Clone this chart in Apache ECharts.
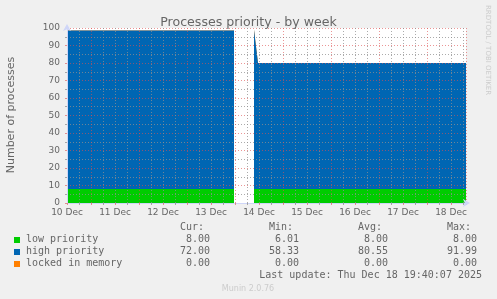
<!DOCTYPE html>
<html><head><meta charset="utf-8">
<script src="https://cdn.jsdelivr.net/npm/echarts@6/dist/echarts.min.js"></script>
<style>html,body{margin:0;padding:0;background:#f0f0f0;}#c{width:497px;height:299px;}</style>
</head><body><div id="c"></div>
<script>
// time in hours since 10 Dec 00:00
const hours          = [0,    83.5, 83.5, 93.5, 94.5, 95.5, 199.5];
const lowPriority    = [8,    8,    null, 8,    8,    8,    8];
const highPriority   = [90.6, 90.6, null, 91,   91,   72,   72];
const lockedInMemory = [0,    0,    null, 0,    0,    0,    0];

const xTickLabels = ['10 Dec','11 Dec','12 Dec','13 Dec','14 Dec','15 Dec','16 Dec','17 Dec','18 Dec'];
const yTickLabels = ['0','10','20','30','40','50','60','70','80','90','100'];

const legendNames  = ['low priority','high priority','locked in memory'];
const legendColors = ['#00cc00','#0066b3','#ff8000'];
const curVals = ['8.00','72.00','0.00'];
const minVals = ['6.01','58.33','0.00'];
const avgVals = ['8.00','80.55','0.00'];
const maxVals = ['8.00','91.99','0.00'];

const GRID = 'rgba(143,143,143,0.75)';
const MGRID = 'rgba(222,79,79,0.6)';
const FONT = '#666666';
const MONO = '10px "DejaVu Sans Mono"';

// stacked (cumulative) tops, computed from the series arrays
const seriesVals = [lowPriority, highPriority, lockedInMemory];
const cumul = [];
seriesVals.forEach((v,si)=>{
  cumul.push(v.map((val,i)=> val===null ? null : seriesVals.slice(0,si+1).reduce((s,a)=>s+a[i],0)));
});

// draw top-of-stack first, lower layers over it
const series = [2,1,0].map((si,k)=>({
  name: legendNames[si], type:'line',
  data: hours.map((h,i)=>[h, cumul[si][i]]),
  symbol:'none', showSymbol:false, connectNulls:false,
  lineStyle:{width:0}, itemStyle:{color:legendColors[si]},
  areaStyle:{color:legendColors[si], opacity:1, origin:'start'}, z:2+k*0.1, zlevel:0, animation:false
}));

const graphic = [];
graphic.push({type:'text', x:11, y:115, rotation:Math.PI/2,
  style:{text:'Number of processes', font:'11px "DejaVu Sans"', fill:FONT, align:'center', verticalAlign:'middle'}});
graphic.push({type:'text', x:488, y:5, rotation:-Math.PI/2,
  style:{text:'RRDTOOL / TOBI OETIKER', font:'7px "DejaVu Sans"', fill:'#cccccc', align:'left', verticalAlign:'middle'}});
const cols = [[204,'Cur:',curVals,210],[293,'Min:',minVals,299],[382,'Avg:',avgVals,388],[471,'Max:',maxVals,477]];
cols.forEach(c=>{
  graphic.push({type:'text', x:c[0], y:227.5, style:{text:c[1], font:MONO, fill:FONT, align:'right', verticalAlign:'middle'}});
});
legendNames.forEach((n,i)=>{
  const y = 239.7 + i*12;
  graphic.push({type:'rect', shape:{x:14, y:y-2.7, width:6, height:6}, style:{fill:legendColors[i]}});
  graphic.push({type:'text', x:26, y:y, style:{text:n, font:MONO, fill:FONT, align:'left', verticalAlign:'middle'}});
  cols.forEach(c=>{
    graphic.push({type:'text', x:c[3], y:y, style:{text:c[2][i], font:MONO, fill:FONT, align:'right', verticalAlign:'middle'}});
  });
});
graphic.push({type:'text', x:482, y:275.5, style:{text:'Last update: Thu Dec 18 19:40:07 2025', font:MONO, fill:FONT, align:'right', verticalAlign:'middle'}});
graphic.push({type:'text', x:248, y:288.5, style:{text:'Munin 2.0.76', font:'8px "DejaVu Sans"', fill:'#cccccc', align:'center', verticalAlign:'middle'}});

const chart = echarts.init(document.getElementById('c'), null, {renderer:'canvas'});
chart.setOption({
  animation:false,
  backgroundColor:'#f0f0f0',
  title:{text:'Processes priority - by week', left:'center', top:11,
    textStyle:{fontFamily:'DejaVu Sans', fontSize:12.6, fontWeight:'normal', color:FONT}},
  grid:{left:67, right:31, top:28, bottom:96, show:true, backgroundColor:'#ffffff', borderWidth:0},
  xAxis:{type:'value', min:0, max:199.5, interval:12, z:5,
    axisLine:{show:true, lineStyle:{color:'#CFD6F8', width:1}, symbol:['none','arrow'], symbolSize:[6,7], symbolOffset:[0,4]},
    axisTick:{show:true, length:2, lineStyle:{color:MGRID}},
    minorTick:{show:true, splitNumber:2, length:2, lineStyle:{color:GRID}},
    axisLabel:{margin:5, fontFamily:'DejaVu Sans', fontSize:9, color:FONT, showMaxLabel:false,
      formatter:v=> (v%24===0 && xTickLabels[v/24]) ? xTickLabels[v/24] : ''},
    splitLine:{show:true, lineStyle:{color:[GRID, MGRID], type:[1,2], width:1}},
    minorSplitLine:{show:true, lineStyle:{color:GRID, type:[1,2], width:1}}
  },
  yAxis:{type:'value', min:0, max:100, interval:10, z:5,
    axisLine:{show:true, lineStyle:{color:'#CFD6F8', width:1}, symbol:['none','arrow'], symbolSize:[6,7], symbolOffset:[0,4]},
    axisTick:{show:true, length:2, lineStyle:{color:MGRID}},
    minorTick:{show:true, splitNumber:2, length:2, lineStyle:{color:GRID}},
    axisLabel:{margin:7, fontFamily:'DejaVu Sans', fontSize:9, color:FONT,
      formatter:v=> yTickLabels[Math.round(v/10)]},
    splitLine:{show:true, lineStyle:{color:MGRID, type:[1,2], width:1}},
    minorSplitLine:{show:true, lineStyle:{color:GRID, type:[1,2], width:1}}
  },
  series: series,
  graphic: graphic
});
</script></body></html>
